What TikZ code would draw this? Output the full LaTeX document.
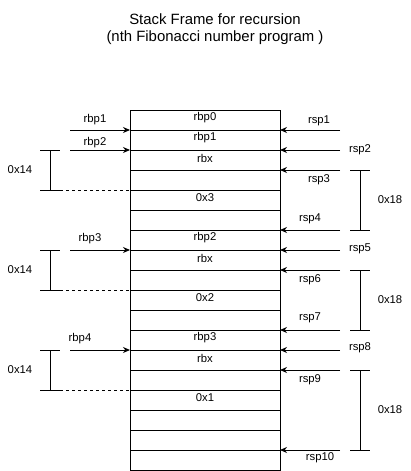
\documentclass[tikz,border=0pt]{standalone}
\usepackage{fontspec}
\setmainfont{Liberation Sans}
\usetikzlibrary{arrows.meta}

\begin{document}
\begin{tikzpicture}[x=1pt, y=-1pt, line width=1pt,
  lbl/.style={font=\fontsize{11.3}{13}\selectfont, inner sep=0pt},
  ptr/.style={-{Stealth[length=7pt, width=6pt]}},
  brace/.style={line width=1pt}]
  % Canvas: 411 x 471 px, y grows downward
  \useasboundingbox (0,0) rectangle (411,471);
  \def\boxl{130}  % left edge of stack
  \def\boxr{280}  % right edge of stack

  % Title
  \node[font=\fontsize{14.9}{17}\selectfont, align=center] (title) at (215,29)
    {Stack Frame for recursion\\(nth Fibonacci number program )};

  % Stack body: 18 rows of 20 px
  \draw (\boxl,110) rectangle (\boxr,470);
  \foreach \r in {1,...,17} {
    \pgfmathsetmacro{\yr}{110+20*\r}
    \draw (\boxl,\yr) -- (\boxr,\yr);
  }

  % Slot contents: row/text
  \foreach \r/\txt [count=\i] in {1/rbp0, 2/rbp1, 3/rbx, 5/0x3, 7/rbp2,
    8/rbx, 10/0x2, 12/rbp3, 13/rbx, 15/0x1} {
    \pgfmathsetmacro{\yc}{20*\r+98}
    \node[lbl] (slot\i) at (205,\yc) {\txt};
  }

  % rbp pointers on the left: y/label/label x/label y
  \foreach \y/\txt/\lx/\ly in {130/rbp1/95/120, 150/rbp2/95/143,
    250/rbp3/90/239, 350/rbp4/80/339} {
    \coordinate (\txt s) at (70,\y);
    \coordinate (\txt e) at (\boxl,\y);
    \draw[ptr] (\txt s) -- (\txt e);
    \node[lbl] (\txt) at (\lx,\ly) {\txt};
  }

  % 0x14 spans on the left with dashed guide to the stack
  \foreach \ya/\yb [count=\i] in {150/190, 250/290, 350/390} {
    \coordinate (lt\i) at (50,\ya);
    \coordinate (lb\i) at (50,\yb);
    \draw[brace] ([xshift=-10pt]lt\i) -- ([xshift=10pt]lt\i);
    \draw[brace] ([xshift=-10pt]lb\i) -- ([xshift=10pt]lb\i);
    \draw[brace] (lt\i) -- (lb\i);
    \draw[dash pattern=on 3pt off 3pt] ([xshift=10pt]lb\i) -- (\boxl,\yb);
    \pgfmathsetmacro{\ym}{(\ya+\yb)/2}
    \node[lbl] (lsz\i) at (20,\ym) {0x14};
  }

  % rsp pointers on the right: y/label x/label y
  \foreach \y/\lx/\ly [count=\i] in {130/319/121, 150/360/150, 170/319/180,
    230/310/219, 250/360/249, 270/310/280, 330/310/318, 350/360/348,
    370/310/380, 450/320/458} {
    \coordinate (rsp\i s) at (340,\y);
    \coordinate (rsp\i e) at (\boxr,\y);
    \draw[ptr] (rsp\i s) -- (rsp\i e);
    \node[lbl] (rsp\i) at (\lx,\ly) {rsp\i};
  }

  % 0x18 spans on the right
  \foreach \ya/\yb [count=\i] in {170/230, 270/330, 370/450} {
    \coordinate (rt\i) at (360,\ya);
    \coordinate (rb\i) at (360,\yb);
    \draw[brace] ([xshift=-10pt]rt\i) -- ([xshift=10pt]rt\i);
    \draw[brace] ([xshift=-10pt]rb\i) -- ([xshift=10pt]rb\i);
    \draw[brace] (rt\i) -- (rb\i);
    \pgfmathsetmacro{\ym}{(\ya+\yb)/2}
    \node[lbl] (rsz\i) at (390,\ym) {0x18};
  }

\end{tikzpicture}
\end{document}
